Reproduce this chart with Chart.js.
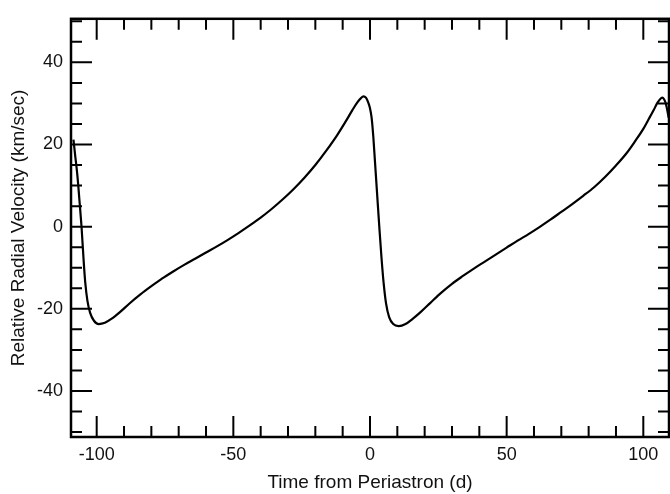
<!DOCTYPE html>
<html>
<head>
<meta charset="utf-8">
<script src="https://cdn.jsdelivr.net/npm/chart.js@4.4.1/dist/chart.umd.min.js"></script>
<style>
  html, body { margin: 0; padding: 0; background: #fff; }
  #wrap { width: 670px; height: 494px; position: relative; }
</style>
</head>
<body>
<div id="wrap"><canvas id="rvChart"></canvas></div>
<script>
// ===== data =====
const days = [
  -108.5, -107.9, -107.0, -106.2, -105.5, -104.8, -104.2, -103.4, -102.4, -101.0,
  -99.3, -97.0, -94.5, -91.5, -88.0, -84.0, -80.0, -76.0, -72.0, -68.0,
  -64.0, -60.0, -56.0, -52.0, -48.0, -44.0, -40.0, -36.0, -32.0, -28.0,
  -24.0, -20.0, -16.0, -12.0, -9.0, -6.5, -4.7, -3.3, -2.4, -1.5,
  -0.7, 0.0, 0.6, 1.2, 1.8, 2.6, 3.4, 4.2, 5.0, 5.9,
  7.0, 8.5, 10.5, 13.0, 15.5, 18.5, 22.0, 26.0, 30.0, 34.0,
  38.0, 42.0, 46.0, 50.0, 54.0, 58.0, 62.0, 66.0, 70.0, 74.0,
  78.0, 82.0, 86.0, 90.0, 94.0, 97.0, 100.0, 102.0, 103.8, 105.2,
  106.2, 106.9, 107.6, 108.3, 109.3
];
const velocity = [
  21.2, 17.5, 12.0, 5.5, -0.5, -8.0, -13.5, -18.0, -21.0, -22.9,
  -23.7, -23.4, -22.4, -20.8, -18.7, -16.5, -14.5, -12.6, -10.9, -9.3,
  -7.8, -6.3, -4.8, -3.2, -1.5, 0.3, 2.2, 4.3, 6.6, 9.1,
  11.9, 15.0, 18.5, 22.3, 25.5, 28.3, 30.2, 31.3, 31.7, 31.4,
  30.3, 28.8, 26.5, 22.0, 16.0, 8.0, 0.0, -7.5, -13.8, -18.8,
  -22.0, -23.7, -24.2, -23.7, -22.5, -20.8, -18.6, -16.1, -13.9, -12.0,
  -10.2, -8.5, -6.8, -5.1, -3.4, -1.8, -0.1, 1.7, 3.6, 5.5,
  7.5, 9.6, 12.1, 14.9, 18.0, 20.8, 23.8, 26.2, 28.4, 30.2,
  31.1, 31.4, 31.0, 29.8, 26.5
];

// axis ticks
const xLabelTicks = [-100, -50, 0, 50, 100];
const yLabelTicks = [-40, -20, 0, 20, 40];
const xMinorStep = 10;
const yMinorStep = 5;
const xRange = [-109.4, 109.4];
const yRange = [-51.2, 50.6];

const points = days.map((d, i) => ({ x: d, y: velocity[i] }));
const FONT = "'Liberation Sans', Arial, Helvetica, sans-serif";

// frame + inward ticks on all four sides
const frameTicks = {
  id: 'frameTicks',
  afterDraw(chart) {
    const ctx = chart.ctx;
    const a = chart.chartArea;
    const xs = chart.scales.x, ys = chart.scales.y;
    ctx.save();
    ctx.strokeStyle = '#000';
    ctx.lineCap = 'butt';

    ctx.lineWidth = 2;
    for (let v = -100; v <= 100; v += xMinorStep) {
      const px = xs.getPixelForValue(v);
      const len = xLabelTicks.includes(v) ? 21 : 11;
      ctx.beginPath();
      ctx.moveTo(px, a.bottom); ctx.lineTo(px, a.bottom - len);
      ctx.moveTo(px, a.top); ctx.lineTo(px, a.top + len);
      ctx.stroke();
    }
    for (let v = -50; v <= 50; v += yMinorStep) {
      const py = ys.getPixelForValue(v);
      const len = yLabelTicks.includes(v) ? 21 : 11;
      ctx.beginPath();
      ctx.moveTo(a.left, py); ctx.lineTo(a.left + len, py);
      ctx.moveTo(a.right, py); ctx.lineTo(a.right - len, py);
      ctx.stroke();
    }

    ctx.lineWidth = 2.5;
    ctx.strokeRect(a.left, a.top, a.right - a.left, a.bottom - a.top);
    ctx.restore();
  }
};

new Chart(document.getElementById('rvChart'), {
  type: 'line',
  data: {
    datasets: [{
      data: points,
      borderColor: '#000',
      borderWidth: 2.2,
      pointRadius: 0,
      fill: false,
      cubicInterpolationMode: 'monotone'
    }]
  },
  options: {
    responsive: true,
    maintainAspectRatio: false,
    animation: false,
    layout: { padding: { top: 13, right: 1, bottom: 0, left: 0 } },
    plugins: { legend: { display: false }, tooltip: { enabled: false } },
    scales: {
      x: {
        type: 'linear',
        min: xRange[0],
        max: xRange[1],
        afterBuildTicks: s => { s.ticks = xLabelTicks.map(v => ({ value: v })); },
        afterFit: s => { s.height = 57; },
        grid: { display: false, drawTicks: false },
        border: { display: false },
        ticks: { color: '#111', font: { family: FONT, size: 18 }, padding: 7, maxRotation: 0 },
        title: {
          display: true,
          text: 'Time from Periastron (d)',
          color: '#111',
          font: { family: FONT, size: 19 },
          padding: { top: 0, bottom: 0 }
        }
      },
      y: {
        type: 'linear',
        min: yRange[0],
        max: yRange[1],
        afterBuildTicks: s => { s.ticks = yLabelTicks.map(v => ({ value: v })); },
        afterFit: s => { s.width = 71; },
        grid: { display: false, drawTicks: false },
        border: { display: false },
        ticks: { color: '#111', font: { family: FONT, size: 18 }, padding: 8 },
        title: {
          display: true,
          text: 'Relative Radial Velocity (km/sec)',
          color: '#111',
          font: { family: FONT, size: 19 },
          padding: { top: 7, bottom: 0 }
        }
      }
    }
  },
  plugins: [frameTicks]
});
</script>
</body>
</html>
